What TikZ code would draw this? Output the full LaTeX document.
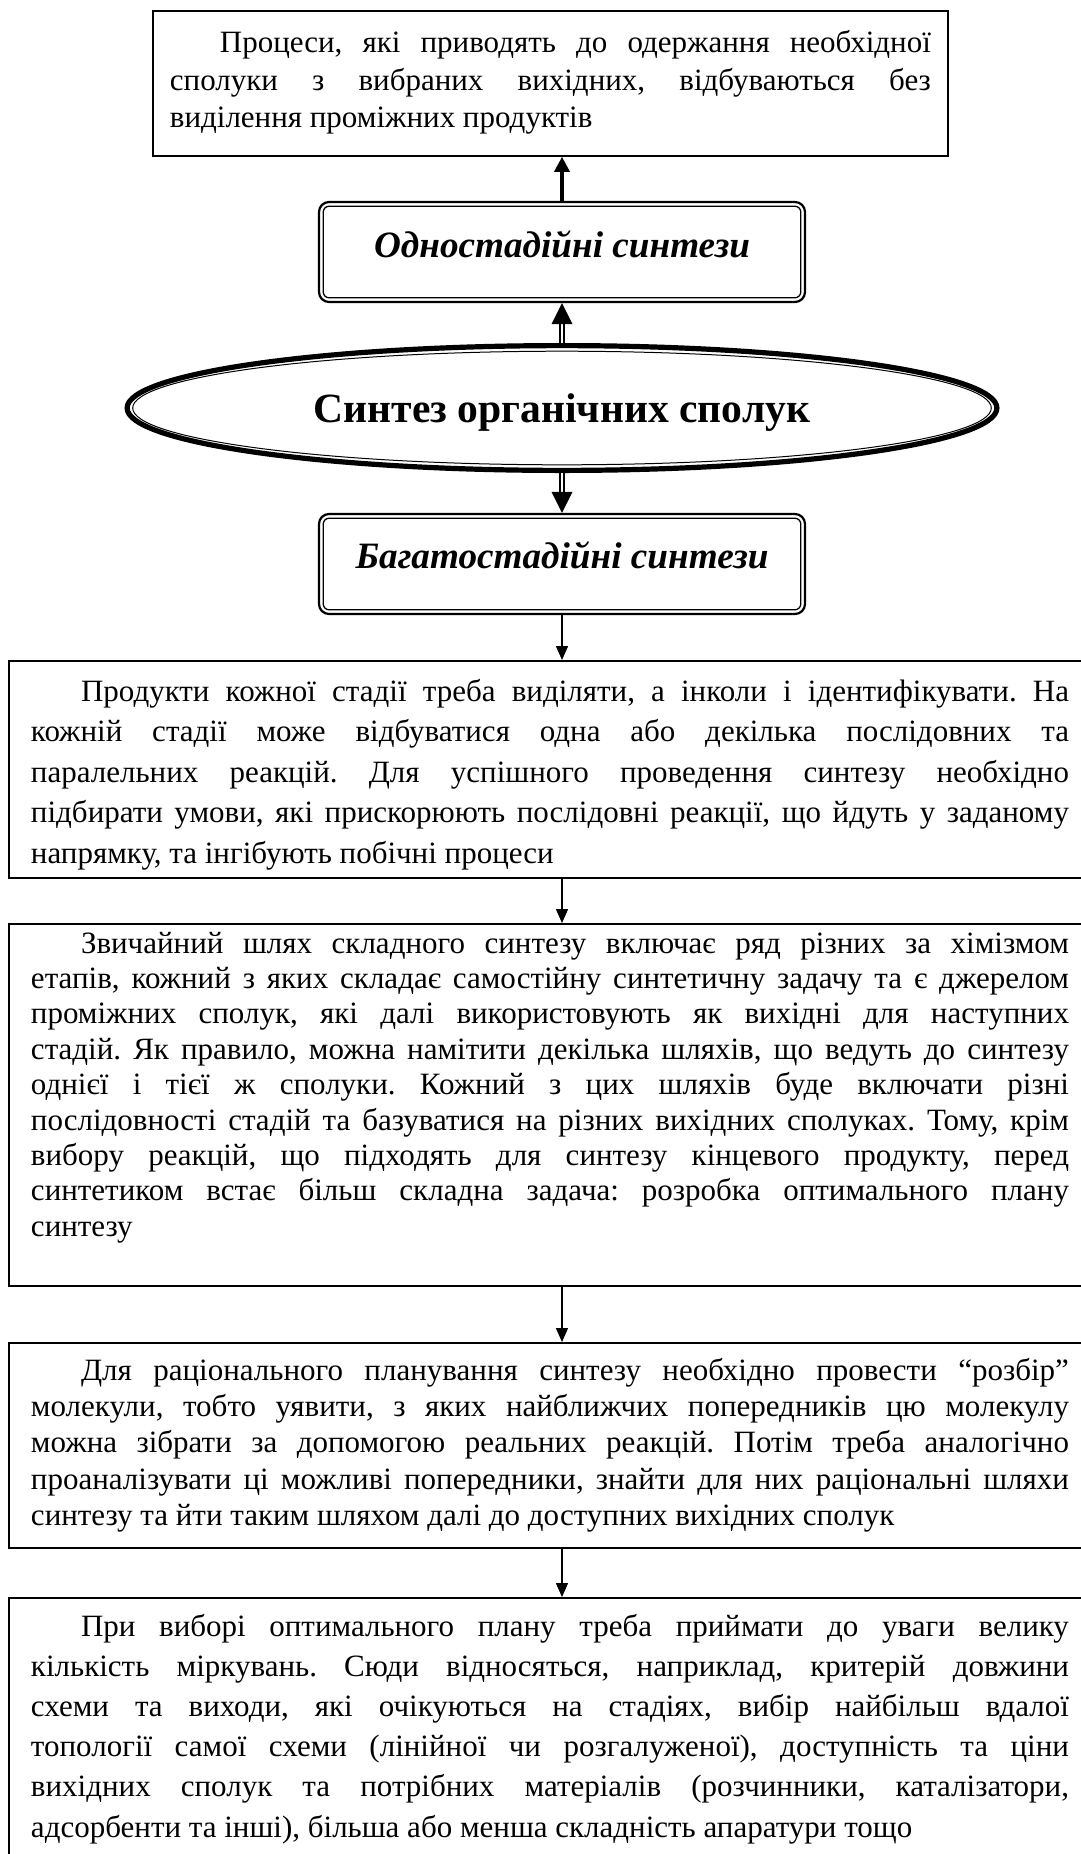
\documentclass[tikz,border=0pt]{standalone}
\usepackage{fontspec}
\setmainfont{Liberation Serif}
\usetikzlibrary{shapes.geometric,arrows.meta,calc}
\newlength\px \setlength\px{0.5pt}
\newcommand\jl[1]{\makebox[\linewidth][s]{#1}\\}
\newcommand\bodyfont[1]{\fontsize{15.5pt}{#1}\selectfont\frenchspacing}
\newcommand\ind{\hspace*{50\px}}
\newcommand\firststrut[1]{\rule{0pt}{#1\px}}
\newcommand\innerframe[1]{\draw[line width=0.65pt, rounded corners=3pt] ([shift={(2.65pt,-2.65pt)}]#1.north west) rectangle ([shift={(-2.65pt,2.65pt)}]#1.south east);}
\tikzset{
  bodybox/.style={draw, line width=1pt, inner xsep=11pt, inner ysep=0pt, anchor=north west},
  topbox/.style={draw, line width=0.9pt, inner xsep=8.5pt, inner ysep=0pt, anchor=north west},
  dbox/.style={draw, line width=1.1pt, rounded corners=5pt, minimum width=243pt, minimum height=50pt, inner sep=0pt, font=\fontsize{18.6pt}{21pt}\selectfont\bfseries\itshape},
  ovalbox/.style={ellipse, draw, line width=2.6pt, minimum width=434.9pt, minimum height=62.4pt, inner sep=0pt, font=\fontsize{20.8pt}{24pt}\selectfont\bfseries},
  thinarrow/.style={line width=0.75pt, -{Triangle[length=7pt,width=6pt]}},
  thickarrow/.style={line width=1.65pt, -{Triangle[length=7.5pt,width=7.5pt]}},
  dshaft/.style={double=white, double distance=1.35pt, line width=0.65pt},
}
\begin{document}
\begin{tikzpicture}[x=0.5pt,y=-0.5pt]
\useasboundingbox (0,0) rectangle (1081,1854);
\clip (0,0) rectangle (1081,1854);
\fill[white] (0,0) rectangle (1081,1854);

% top box
\node[topbox] (top) at (152,10) {\parbox[t][145\px][t]{761\px}{\bodyfont{18.75pt}%
\firststrut{42}\jl{\ind Процеси, які приводять до одержання необхідної}%
\jl{сполуки з вибраних вихідних, відбуваються без}%
виділення проміжних продуктів}};

% double framed boxes
\node[dbox] (odn) at (562,252) {\raisebox{-5\px}[0pt][0pt]{Одностадійні синтези}};
\innerframe{odn}
\node[dbox] (bag) at (562,564) {\raisebox{-4\px}[0pt][0pt]{Багатостадійні синтези}};
\innerframe{bag}

% ellipse
\node[ovalbox] (e) at (562,408) {\raisebox{-14\px}[0pt][0pt]{Синтез органічних сполук}};
\draw[line width=0.5pt] (e.center) ellipse [x radius=214.65pt, y radius=28.4pt];

% body boxes
\node[bodybox] (b2) at (8,660) {\parbox[t][217\px][t]{1038\px}{\bodyfont{20.25pt}%
\firststrut{40}\jl{\ind Продукти кожної стадії треба виділяти, а інколи і ідентифікувати. На}%
\jl{кожній стадії може відбуватися одна або декілька послідовних та}%
\jl{паралельних реакцій. Для успішного проведення синтезу необхідно}%
\jl{підбирати умови, які прискорюють послідовні реакції, що йдуть у заданому}%
напрямку, та інгібують побічні процеси}};

\node[bodybox] (b3) at (8,923) {\parbox[t][362\px][t]{1038\px}{\bodyfont{17.7pt}%
\firststrut{29}\jl{\ind Звичайний шлях складного синтезу включає ряд різних за хімізмом}%
\jl{етапів, кожний з яких складає самостійну синтетичну задачу та є джерелом}%
\jl{проміжних сполук, які далі використовують як вихідні для наступних}%
\jl{стадій. Як правило, можна намітити декілька шляхів, що ведуть до синтезу}%
\jl{однієї і тієї ж сполуки. Кожний з цих шляхів буде включати різні}%
\jl{послідовності стадій та базуватися на різних вихідних сполуках. Тому, крім}%
\jl{вибору реакцій, що підходять для синтезу кінцевого продукту, перед}%
\jl{синтетиком встає більш складна задача: розробка оптимального плану}%
синтезу}};

\node[bodybox] (b4) at (8,1342) {\parbox[t][205\px][t]{1038\px}{\bodyfont{18.2pt}%
\firststrut{37}\jl{\ind Для раціонального планування синтезу необхідно провести “розбір”}%
\jl{молекули, тобто уявити, з яких найближчих попередників цю молекулу}%
\jl{можна зібрати за допомогою реальних реакцій. Потім треба аналогічно}%
\jl{проаналізувати ці можливі попередники, знайти для них раціональні шляхи}%
синтезу та йти таким шляхом далі до доступних вихідних сполук}};

\node[bodybox] (b5) at (8,1597) {\parbox[t][320\px][t]{1038\px}{\bodyfont{20.1pt}%
\firststrut{38}\jl{\ind При виборі оптимального плану треба приймати до уваги велику}%
\jl{кількість міркувань. Сюди відносяться, наприклад, критерій довжини}%
\jl{схеми та виходи, які очікуються на стадіях, вибір найбільш вдалої}%
\jl{топології самої схеми (лінійної чи розгалуженої), доступність та ціни}%
\jl{вихідних сполук та потрібних матеріалів (розчинники, каталізатори,}%
адсорбенти та інші), більша або менша складність апаратури тощо}};

% connectors
\draw[thickarrow] (odn.north) -- (odn.north |- top.south);
\draw[dshaft] (e.north) -- ([yshift=-9pt]odn.south);
\fill (odn.south) -- ++(-5.25pt,-10.5pt) -- ++(10.5pt,0pt) -- cycle;
\draw[dshaft] (e.south) -- ([yshift=9pt]bag.north);
\fill (bag.north) -- ++(-5.25pt,10.5pt) -- ++(10.5pt,0pt) -- cycle;
\draw[thinarrow] (bag.south) -- (bag.south |- b2.north);
\draw[thinarrow] (bag.south |- b2.south) -- (bag.south |- b3.north);
\draw[thinarrow] (bag.south |- b3.south) -- (bag.south |- b4.north);
\draw[thinarrow] (bag.south |- b4.south) -- (bag.south |- b5.north);
\end{tikzpicture}
\end{document}
